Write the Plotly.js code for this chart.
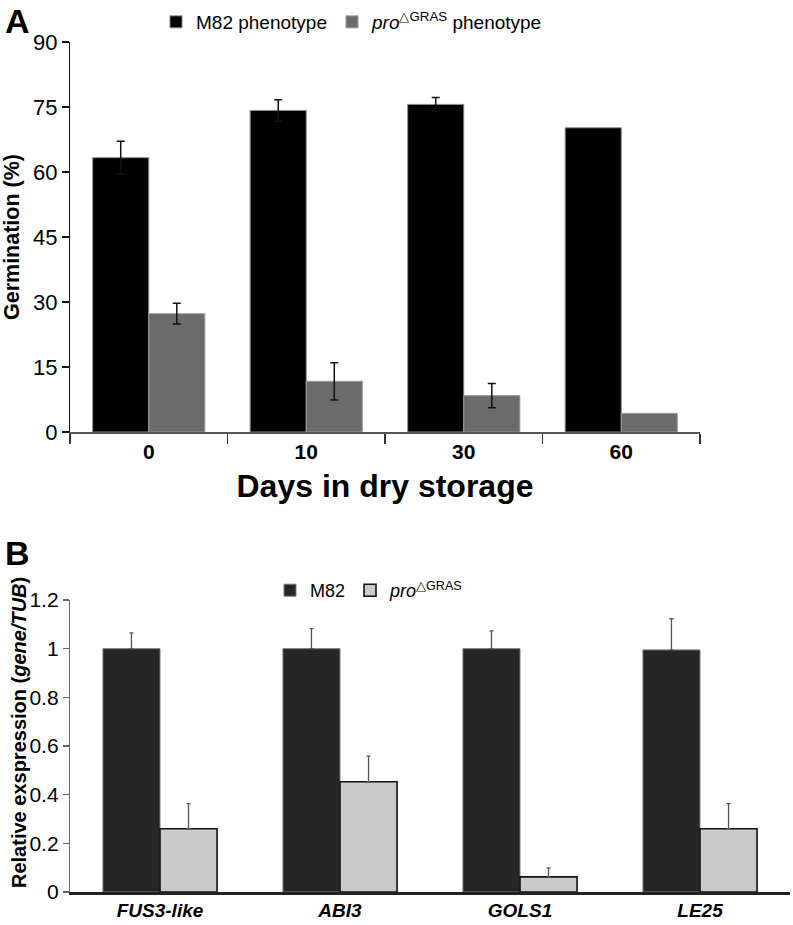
<!DOCTYPE html>
<html>
<head>
<meta charset="utf-8">
<script src="https://cdn.plot.ly/plotly-3.0.1.min.js"></script>
<style>html,body{margin:0;padding:0;background:#fff}#chart{width:793px;height:925px}</style>
</head>
<body>
<div id="chart"></div>
<script>
// Panel A data
const daysLabels = ["0", "10", "30", "60"];
const m82Germ = [63.3, 74.2, 75.6, 70.2];
const m82GermErr = [3.8, 2.5, 1.6];      // no error bar shown at 60 days
const proGerm = [27.3, 11.7, 8.4, 4.3];
const proGermErr = [2.4, 4.3, 2.8];      // no error bar shown at 60 days
const yTicksA = [0, 15, 30, 45, 60, 75, 90];

// Panel B data
const genes = ["<i>FUS3-like</i>", "<i>ABI3</i>", "<i>GOLS1</i>", "<i>LE25</i>"];
const m82Expr = [1.0, 1.0, 1.0, 0.995];
const m82ExprErr = [0.065, 0.082, 0.073, 0.128];
const proExpr = [0.26, 0.453, 0.062, 0.26];
const proExprErr = [0.103, 0.105, 0.037, 0.103];
const yTicksB = [0, 0.2, 0.4, 0.6, 0.8, 1, 1.2];
const yTickTextB = ["0", "0.2", "0.4", "0.6", "0.8", "1", "1.2"];

const W = 793, H = 925;
const px = v => v / W;
const py = v => 1 - v / H;
const FONT = "Liberation Sans, Arial, sans-serif";
const wA = 0.356, wB = 0.317;

const traces = [
  {type: "bar", x: daysLabels, y: m82Germ, name: "M82 phenotype", xaxis: "x", yaxis: "y", legend: "legend",
   width: wA, offset: -wA,
   marker: {color: "#000000", line: {color: "#8a8a8a", width: 1}},
   error_y: {type: "data", array: m82GermErr, visible: true, color: "#111", thickness: 1.5, width: 4}},
  {type: "bar", x: daysLabels, y: proGerm, name: "<i>pro</i><sup>△GRAS</sup> phenotype", xaxis: "x", yaxis: "y", legend: "legend",
   width: wA, offset: 0,
   marker: {color: "#6b6b6b", line: {color: "#9a9a9a", width: 1}},
   error_y: {type: "data", array: proGermErr, visible: true, color: "#111", thickness: 1.5, width: 4}},
  {type: "bar", x: genes, y: m82Expr, name: "M82", xaxis: "x2", yaxis: "y2", legend: "legend2",
   width: wB, offset: -wB,
   marker: {color: "#262626", line: {color: "#7a7a7a", width: 1}},
   error_y: {type: "data", array: m82ExprErr, arrayminus: [0, 0, 0, 0], symmetric: false, visible: true, color: "#555", thickness: 1.3, width: 2}},
  {type: "bar", x: genes, y: proExpr, name: "<i>pro</i><sup>△GRAS</sup>", xaxis: "x2", yaxis: "y2", legend: "legend2",
   width: wB, offset: 0,
   marker: {color: "#cbcbcb", line: {color: "#111", width: 1.6}},
   error_y: {type: "data", array: proExprErr, arrayminus: [0, 0, 0, 0], symmetric: false, visible: true, color: "#555", thickness: 1.3, width: 2}}
];

const layout = {
  width: W, height: H,
  margin: {l: 0, r: 0, t: 0, b: 0},
  paper_bgcolor: "#fff", plot_bgcolor: "#fff",
  font: {family: FONT, color: "#000"},
  barmode: "group",
  showlegend: true,
  xaxis: {
    type: "category",
    domain: [px(70), px(700)], anchor: "y",
    showline: true, linecolor: "#555", linewidth: 2,
    ticks: "outside", tickson: "boundaries", ticklen: 10, tickcolor: "#333", tickwidth: 1.5,
    tickfont: {size: 21, family: FONT, color: "#000", weight: "bold"},
    showgrid: false, zeroline: false,
    title: {text: "<b>Days in dry storage</b>", font: {size: 32, family: FONT}, standoff: 12}
  },
  yaxis: {
    domain: [py(432), py(42)], anchor: "x",
    range: [0, 90], tickvals: yTicksA,
    showline: true, linecolor: "#111", linewidth: 1.2,
    ticks: "outside", ticklen: 7, tickcolor: "#111", tickwidth: 1.2,
    tickfont: {size: 22, family: FONT, color: "#000"},
    showgrid: false, zeroline: false,
    title: {text: "<b>Germination (%)</b>", font: {size: 21.5, family: FONT}, standoff: 8}
  },
  xaxis2: {
    type: "category",
    domain: [px(70), px(790)], anchor: "y2",
    showline: true, linecolor: "#222", linewidth: 2.5,
    ticks: "",
    tickfont: {size: 19, family: FONT, color: "#000", weight: "bold"},
    showgrid: false, zeroline: false
  },
  yaxis2: {
    domain: [py(892), py(600)], anchor: "x2",
    range: [0, 1.2], tickvals: yTicksB, ticktext: yTickTextB,
    showline: true, linecolor: "#666", linewidth: 1.2,
    ticks: "outside", ticklen: 6, tickcolor: "#666", tickwidth: 1.2,
    tickfont: {size: 21, family: FONT, color: "#000"},
    showgrid: false, zeroline: false
  },
  legend: {
    orientation: "h", x: px(156), y: py(3), xanchor: "left", yanchor: "top",
    font: {size: 19, family: FONT}, bgcolor: "rgba(0,0,0,0)", itemwidth: 30, traceorder: "normal"
  },
  legend2: {
    orientation: "h", x: px(270), y: py(572), xanchor: "left", yanchor: "top",
    font: {size: 18, family: FONT}, bgcolor: "rgba(0,0,0,0)", itemwidth: 30, traceorder: "normal"
  },
  annotations: [
    {text: "<b>A</b>", x: px(3), y: py(0), xref: "paper", yref: "paper", xanchor: "left", yanchor: "top", showarrow: false, font: {size: 34, family: FONT}},
    {text: "<b>B</b>", x: px(3), y: py(532), xref: "paper", yref: "paper", xanchor: "left", yanchor: "top", showarrow: false, font: {size: 34, family: FONT}},
    {text: "<b>Relative exspression (<i>gene/TUB</i>)</b>", x: px(19), y: py(733), xref: "paper", yref: "paper", xanchor: "center", yanchor: "middle",
     textangle: -90, showarrow: false, font: {size: 20, family: FONT}}
  ]
};

Plotly.newPlot("chart", traces, layout, {displayModeBar: false, staticPlot: true});
</script>
</body>
</html>
